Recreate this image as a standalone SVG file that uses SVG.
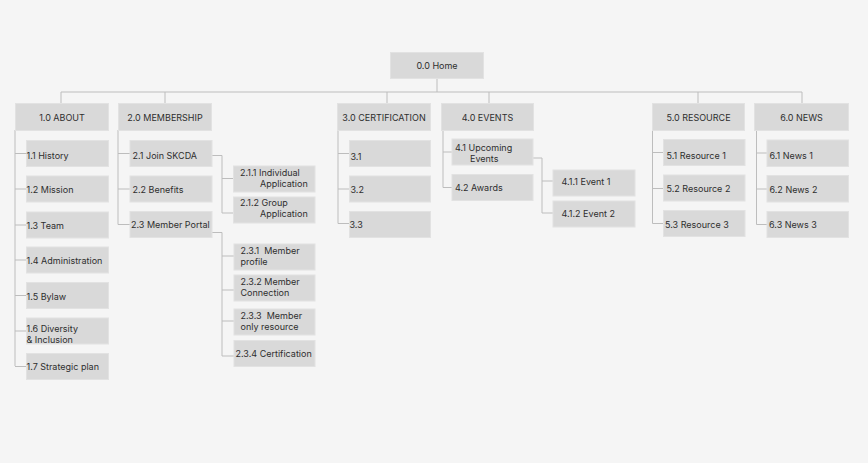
<svg xmlns="http://www.w3.org/2000/svg" width="868" height="463" viewBox="0 0 868 463">
<style>
.bx{fill:#d9d9d9;stroke:#e2e2e2;stroke-width:1}
.t{font-family:Inter,"Liberation Sans",sans-serif;font-size:9px;fill:#2e2e2e;dominant-baseline:central;white-space:pre}
.c{text-anchor:middle}
.ln{fill:none;stroke:#bdbdbd;stroke-width:1}
</style>
<rect width="868" height="463" fill="#f5f5f5"/>
<g id="connectors" class="ln">
<path d="M437 78V92M61 92H802M61 92V103M165 92V103M387 92V103M489 92V103M698 92V103M802 92V103"/>
<path d="M15 130V366M15 153.5H26M15 189H26M15 225H26M15 260H26M15 295.5H26M15 331H26M15 366.5H26"/>
<path d="M118 130V224.5M118 153.5H130M118 189H130M118 224.5H130"/>
<path d="M212 155.5H222V213M222 178.5H233M222 213H233"/>
<path d="M212 232.5H222V356M222 256H234M222 290H234M222 321H234M222 356H234"/>
<path d="M338 130V223.5M338 153.5H349M338 189H349M338 223.5H349"/>
<path d="M443 130V187.5M443 152H452M443 187.5H452"/>
<path d="M533 158H542V213M542 181H553M542 213H553"/>
<path d="M652.5 130V223.5M652.5 152.5H663M652.5 188.5H663M652.5 223.5H663"/>
<path d="M756.5 130V224.5M756.5 153H767M756.5 189H767M756.5 224.5H767"/>
</g>
<g id="n00"><rect class="bx" x="390.5" y="52.5" width="93" height="26"/><text class="t c" x="437" y="65.5">0.0 Home</text></g>
<g id="n10"><rect class="bx" x="15.5" y="103.5" width="93" height="27"/><text class="t c" x="62" y="117">1.0 ABOUT</text></g>
<g id="n20"><rect class="bx" x="118.5" y="103.5" width="93" height="27"/><text class="t c" x="165" y="117">2.0 MEMBERSHIP</text></g>
<g id="n30"><rect class="bx" x="337.5" y="103.5" width="93" height="27"/><text class="t c" x="384" y="117">3.0 CERTIFICATION</text></g>
<g id="n40"><rect class="bx" x="441.5" y="103.5" width="92" height="27"/><text class="t c" x="487.5" y="117">4.0 EVENTS</text></g>
<g id="n50"><rect class="bx" x="652.5" y="103.5" width="92" height="27"/><text class="t c" x="698.5" y="117">5.0 RESOURCE</text></g>
<g id="n60"><rect class="bx" x="754.5" y="103.5" width="94" height="27"/><text class="t c" x="801.5" y="117">6.0 NEWS</text></g>

<g id="n11"><rect class="bx" x="26.5" y="140.5" width="82" height="26"/><text class="t" x="26.5" y="155">1.1 History</text></g>
<g id="n12"><rect class="bx" x="26.5" y="176" width="82" height="26"/><text class="t" x="26.5" y="189.5">1.2 Mission</text></g>
<g id="n13"><rect class="bx" x="26.5" y="212" width="82" height="26"/><text class="t" x="26.5" y="225">1.3 Team</text></g>
<g id="n14"><rect class="bx" x="26.5" y="247" width="82" height="26"/><text class="t" x="26.5" y="260.5">1.4 Administration</text></g>
<g id="n15"><rect class="bx" x="26.5" y="282.5" width="82" height="26"/><text class="t" x="26.5" y="296">1.5 Bylaw</text></g>
<g id="n16"><rect class="bx" x="26.5" y="318" width="82" height="26"/><text class="t" x="26.5" y="328">1.6 Diversity</text><text class="t" x="26.5" y="339">&amp; Inclusion</text></g>
<g id="n17"><rect class="bx" x="26.5" y="353.5" width="82" height="26"/><text class="t" x="26.5" y="366.5">1.7 Strategic plan</text></g>

<g id="n21"><rect class="bx" x="130" y="140.5" width="82" height="26"/><text class="t" x="132.5" y="155.5">2.1 Join SKCDA</text></g>
<g id="n22"><rect class="bx" x="130" y="176" width="82" height="26"/><text class="t" x="132.5" y="189.5">2.2 Benefits</text></g>
<g id="n23"><rect class="bx" x="130" y="211.5" width="82" height="26"/><text class="t" x="131" y="224.5">2.3 Member Portal</text></g>

<g id="n211"><rect class="bx" x="233.5" y="166" width="81.5" height="26"/><text class="t" x="240" y="172">2.1.1 Individual</text><text class="t" x="260" y="183.5">Application</text></g>
<g id="n212"><rect class="bx" x="233.5" y="197" width="81.5" height="26"/><text class="t" x="240" y="202.5">2.1.2 Group</text><text class="t" x="260" y="213.5">Application</text></g>

<g id="n231"><rect class="bx" x="234" y="244" width="81" height="26"/><text class="t" x="240.5" y="250">2.3.1  Member</text><text class="t" x="240.5" y="261">profile</text></g>
<g id="n232"><rect class="bx" x="234" y="275" width="81" height="26"/><text class="t" x="240.5" y="281">2.3.2 Member</text><text class="t" x="240.5" y="292">Connection</text></g>
<g id="n233"><rect class="bx" x="234" y="309" width="81" height="26"/><text class="t" x="240.5" y="315.5">2.3.3  Member</text><text class="t" x="240.5" y="326.5">only resource</text></g>
<g id="n234"><rect class="bx" x="234" y="340.5" width="81" height="26"/><text class="t" x="235.5" y="353">2.3.4 Certification</text></g>

<g id="n31"><rect class="bx" x="349.5" y="140.5" width="81" height="26"/><text class="t" x="350.5" y="156">3.1</text></g>
<g id="n32"><rect class="bx" x="349.5" y="176" width="81" height="26"/><text class="t" x="350.5" y="189.5">3.2</text></g>
<g id="n33"><rect class="bx" x="349.5" y="211.5" width="81" height="26"/><text class="t" x="349.5" y="224.5">3.3</text></g>

<g id="n41"><rect class="bx" x="452" y="139" width="81" height="26"/><text class="t" x="455" y="147">4.1 Upcoming</text><text class="t" x="470" y="158">Events</text></g>
<g id="n42"><rect class="bx" x="452" y="174.5" width="81" height="26"/><text class="t" x="455" y="187.5">4.2 Awards</text></g>
<g id="n411"><rect class="bx" x="553" y="170" width="82" height="26"/><text class="t" x="561.5" y="181.5">4.1.1 Event 1</text></g>
<g id="n412"><rect class="bx" x="553" y="201" width="82" height="26"/><text class="t" x="561.5" y="213">4.1.2 Event 2</text></g>

<g id="n51"><rect class="bx" x="663.5" y="139.5" width="81.5" height="26"/><text class="t" x="666.5" y="155">5.1 Resource 1</text></g>
<g id="n52"><rect class="bx" x="663.5" y="175" width="81.5" height="26"/><text class="t" x="666.5" y="188.5">5.2 Resource 2</text></g>
<g id="n53"><rect class="bx" x="663.5" y="210.5" width="81.5" height="26"/><text class="t" x="665" y="224">5.3 Resource 3</text></g>

<g id="n61"><rect class="bx" x="767" y="140" width="81.5" height="26.5"/><text class="t" x="769.5" y="155.5">6.1 News 1</text></g>
<g id="n62"><rect class="bx" x="767" y="175.5" width="81.5" height="26.5"/><text class="t" x="769.5" y="189">6.2 News 2</text></g>
<g id="n63"><rect class="bx" x="767" y="211.5" width="81.5" height="26"/><text class="t" x="769" y="224.5">6.3 News 3</text></g>
</svg>
